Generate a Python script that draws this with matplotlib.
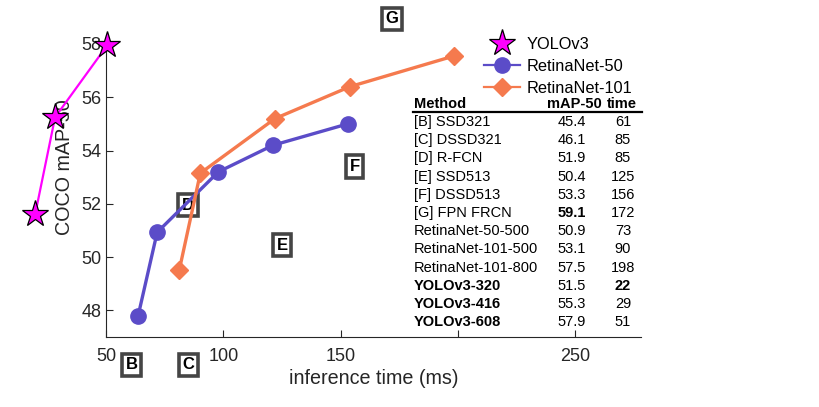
import matplotlib
matplotlib.use("Agg")
import matplotlib.pyplot as plt
from matplotlib.lines import Line2D

plt.rcParams['font.family'] = ['Liberation Sans', 'DejaVu Sans']

# curves
yolo_t = [19.8, 28.3, 50.5]
yolo_map = [51.6, 55.25, 57.95]
r50_t = [63.7, 71.8, 97.9, 121.2, 153.0]
r50_map = [47.8, 50.93, 53.2, 54.2, 55.0]
r101_t = [81.2, 90.2, 122.0, 154.0, 198.3]
r101_map = [49.5, 53.15, 55.2, 56.4, 57.55]

# letter markers for the other detectors
letters = ['B', 'C', 'D', 'E', 'F', 'G']
letter_t = [61, 85, 85, 125, 156, 172]
letter_map = [45.95, 45.95, 51.95, 50.45, 53.4, 58.95]

# table
methods = ['[B] SSD321', '[C] DSSD321', '[D] R-FCN', '[E] SSD513', '[F] DSSD513',
           '[G] FPN FRCN', 'RetinaNet-50-500', 'RetinaNet-101-500', 'RetinaNet-101-800',
           'YOLOv3-320', 'YOLOv3-416', 'YOLOv3-608']
maps = ['45.4', '46.1', '51.9', '50.4', '53.3', '59.1', '50.9', '53.1', '57.5',
        '51.5', '55.3', '57.9']
times = ['61', '85', '85', '125', '156', '172', '73', '90', '198', '22', '29', '51']
bold_method = [False] * 9 + [True] * 3
bold_map = [m == '59.1' for m in maps]
bold_time = [t == '22' for t in times]

xticks = [50, 100, 150, 200, 250]
xticklabels = ['50', '100', '150', '', '250']
yticks = [48, 50, 52, 54, 56, 58]

c_yolo = '#ff00ff'
c_r50 = '#5b4cc8'
c_r101 = '#f57a4e'
txt = '#262626'

W, H = 820, 407
fig = plt.figure(figsize=(W / 100, H / 100), dpi=100)
ax = fig.add_axes([106 / W, 1 - 337 / H, 535 / W, 293 / H])

ax.plot(yolo_t, yolo_map, color=c_yolo, lw=1.6, marker='*', ms=20,
        mfc=c_yolo, mec='black', mew=0.9, clip_on=False, zorder=4)
ax.plot(r50_t, r50_map, color=c_r50, lw=2.4, marker='o', ms=11,
        clip_on=False, zorder=3)
ax.plot(r101_t, r101_map, color=c_r101, lw=2.4, marker='D', ms=9,
        clip_on=False, zorder=3)

for l, t, m in zip(letters, letter_t, letter_map):
    ax.text(t, m, l, ha='center', va='center', fontsize=12, fontweight='bold',
            color='black', clip_on=False, zorder=1,
            bbox=dict(boxstyle='square,pad=0.22', fc='white', ec='#454545', lw=2.6))

ax.set_xlim(50, 278)
ax.set_ylim(47, 58)
ax.set_xticks(xticks)
ax.set_xticklabels(xticklabels)
ax.set_yticks(yticks)
ax.tick_params(direction='in', length=5, labelsize=13, colors=txt, width=0.8)
ax.tick_params(axis='x', pad=8)
for s in ['top', 'right']:
    ax.spines[s].set_visible(False)
for s in ['left', 'bottom']:
    ax.spines[s].set_color(txt)
    ax.spines[s].set_linewidth(0.8)
ax.set_xlabel('inference time (ms)', fontsize=14.2, color=txt, labelpad=3)
ax.set_ylabel('COCO mAP-50', fontsize=14.2, color=txt)
ax.yaxis.set_label_coords(-0.06, 0.58)

handles = [
    Line2D([], [], ls='none', marker='*', ms=20, mfc=c_yolo, mec='black', mew=0.9),
    Line2D([], [], color=c_r50, lw=1.6, marker='o', ms=11),
    Line2D([], [], color=c_r101, lw=1.6, marker='D', ms=9),
]
fig.legend(handles, ['YOLOv3', 'RetinaNet-50', 'RetinaNet-101'],
           loc='upper left', bbox_to_anchor=(484 / W, 1 - 37 / H),
           frameon=False, fontsize=11.8, handlelength=2.2, handletextpad=0.4,
           labelspacing=0.42, borderpad=0, borderaxespad=0)

# table drawn in figure pixels
def fx(px):
    return px / W

def fy(py):
    return 1 - py / H

fs = 10.5
fig.text(fx(414), fy(104), 'Method', fontsize=fs, fontweight='bold', va='center')
fig.text(fx(574), fy(104), 'mAP-50', fontsize=fs, fontweight='bold', va='center', ha='center')
fig.text(fx(622), fy(104), 'time', fontsize=fs, fontweight='bold', va='center', ha='center')
fig.add_artist(Line2D([fx(413), fx(642)], [fy(112), fy(112)], color='black', lw=1.6))
for i in range(len(methods)):
    y = fy(122 + i * 18.2)
    fig.text(fx(414), y, methods[i], fontsize=fs, va='center',
             fontweight='bold' if bold_method[i] else 'normal')
    fig.text(fx(572), y, maps[i], fontsize=fs, va='center', ha='center',
             fontweight='bold' if bold_map[i] else 'normal')
    fig.text(fx(623), y, times[i], fontsize=fs, va='center', ha='center',
             fontweight='bold' if bold_time[i] else 'normal')

fig.savefig('out.png', dpi=100)
